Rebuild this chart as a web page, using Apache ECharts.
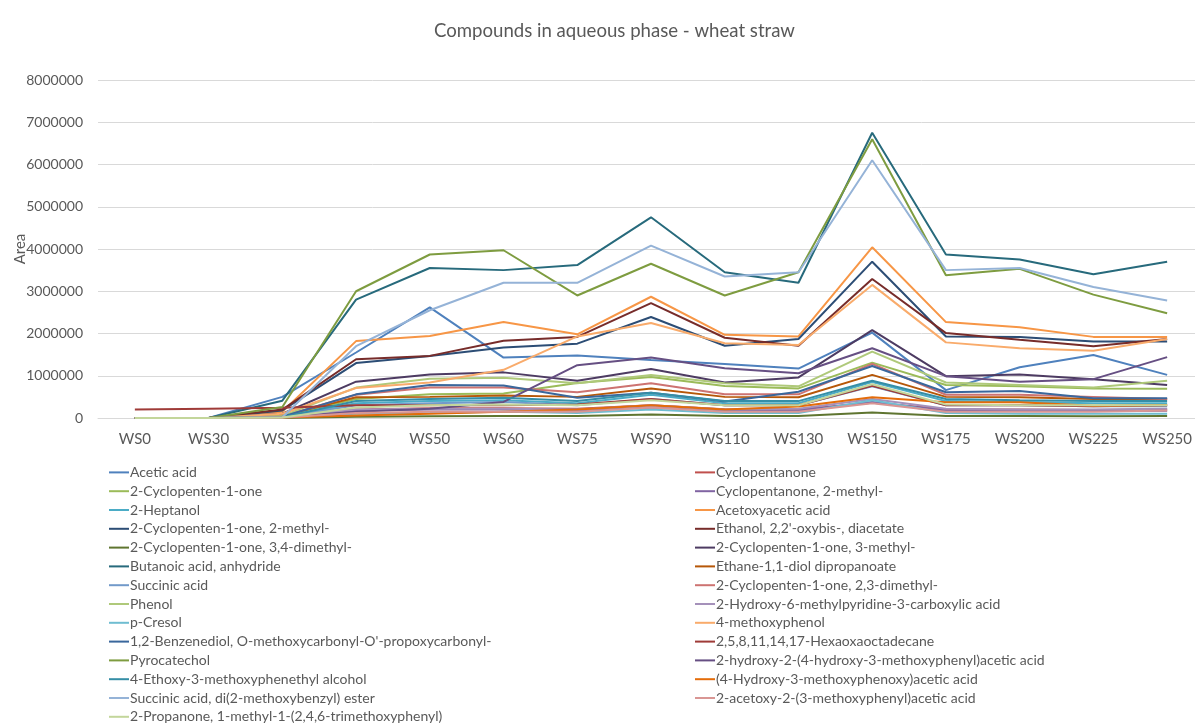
<!DOCTYPE html>
<html>
<head>
<meta charset="utf-8">
<title>Compounds in aqueous phase - wheat straw</title>
<script src="https://cdn.jsdelivr.net/npm/echarts@6/dist/echarts.min.js"></script>
<style>
  html, body { margin: 0; padding: 0; background: #ffffff; }
  #chart { width: 1195px; height: 724px; }
</style>
</head>
<body>
<div id="chart"></div>
<script>
// Samples (treatment temperature) along the x axis
const categories = ['WS0', 'WS30', 'WS35', 'WS40', 'WS50', 'WS60', 'WS75', 'WS90', 'WS110', 'WS130', 'WS150', 'WS175', 'WS200', 'WS225', 'WS250'];

// Peak areas per compound, one value per sample
const aceticAcid              = [0, 0, 500000, 1550000, 2620000, 1430000, 1480000, 1370000, 1280000, 1170000, 2020000, 660000, 1200000, 1490000, 1020000];
const cyclopentanone          = [0, 0, 60000, 200000, 230000, 230000, 220000, 300000, 210000, 200000, 360000, 210000, 200000, 190000, 200000];
const cyclopentenone          = [0, 0, 50000, 450000, 560000, 580000, 830000, 970000, 760000, 700000, 1310000, 780000, 750000, 700000, 690000];
const methylCyclopentanone    = [0, 0, 30000, 180000, 200000, 200000, 180000, 250000, 170000, 180000, 380000, 180000, 170000, 170000, 170000];
const heptanol                = [0, 0, 20000, 350000, 400000, 420000, 350000, 550000, 350000, 350000, 850000, 400000, 380000, 350000, 350000];
const acetoxyaceticAcid       = [0, 0, 150000, 1820000, 1940000, 2270000, 1980000, 2870000, 1970000, 1930000, 4040000, 2270000, 2150000, 1920000, 1920000];
const methylCyclopentenone2   = [0, 0, 180000, 1300000, 1470000, 1670000, 1760000, 2390000, 1710000, 1870000, 3700000, 1930000, 1920000, 1810000, 1810000];
const oxybisEthanolDiacetate  = [0, 0, 200000, 1390000, 1470000, 1830000, 1920000, 2720000, 1900000, 1710000, 3290000, 2010000, 1850000, 1700000, 1870000];
const dimethylCyclopentenone34 = [0, 0, 0, 30000, 40000, 50000, 50000, 80000, 50000, 50000, 130000, 50000, 50000, 40000, 50000];
const methylCyclopentenone3   = [0, 0, 100000, 860000, 1030000, 1080000, 880000, 1160000, 840000, 960000, 2080000, 990000, 1030000, 920000, 780000];
const butanoicAnhydride       = [0, 0, 410000, 2800000, 3550000, 3500000, 3620000, 4750000, 3450000, 3200000, 6750000, 3870000, 3750000, 3400000, 3700000];
const ethanediolDipropanoate  = [0, 0, 50000, 490000, 500000, 530000, 500000, 700000, 500000, 490000, 1020000, 500000, 490000, 450000, 450000];
const succinicAcid            = [0, 0, 20000, 300000, 350000, 380000, 300000, 450000, 300000, 300000, 750000, 300000, 300000, 280000, 280000];
const dimethylCyclopentenone23 = [0, 0, 40000, 550000, 720000, 720000, 610000, 820000, 560000, 560000, 1280000, 550000, 550000, 500000, 450000];
const phenol                  = [0, 0, 50000, 720000, 930000, 950000, 820000, 1020000, 820000, 750000, 1570000, 840000, 780000, 720000, 880000];
const hydroxyMethylpyridine   = [0, 0, 20000, 200000, 220000, 220000, 200000, 300000, 200000, 220000, 450000, 220000, 200000, 200000, 220000];
const pCresol                 = [0, 0, 10000, 100000, 120000, 150000, 120000, 200000, 120000, 120000, 420000, 120000, 100000, 100000, 100000];
const methoxyphenol           = [0, 0, 100000, 710000, 840000, 1140000, 1930000, 2250000, 1770000, 1730000, 3150000, 1790000, 1650000, 1590000, 1870000];
const benzenediolCarbonate    = [0, 0, 30000, 560000, 780000, 770000, 480000, 600000, 390000, 620000, 1230000, 610000, 640000, 470000, 470000];
const hexaoxaoctadecane       = [200000, 220000, 240000, 300000, 300000, 300000, 320000, 450000, 300000, 300000, 760000, 300000, 300000, 280000, 300000];
const pyrocatechol            = [0, 0, 260000, 3000000, 3870000, 3970000, 2900000, 3650000, 2900000, 3450000, 6600000, 3380000, 3530000, 2920000, 2480000];
const hydroxyMethoxyMandelic  = [0, 0, 20000, 150000, 220000, 380000, 1250000, 1430000, 1180000, 1060000, 1650000, 990000, 860000, 920000, 1440000];
const ethoxyMethoxyPhenethyl  = [0, 0, 20000, 400000, 450000, 480000, 400000, 600000, 400000, 400000, 880000, 450000, 420000, 400000, 400000];
const hydroxyMethoxyPhenoxyacetic = [0, 0, 10000, 60000, 100000, 150000, 200000, 300000, 200000, 270000, 490000, 370000, 370000, 290000, 310000];
const succinicDiester         = [0, 0, 20000, 1700000, 2550000, 3200000, 3200000, 4080000, 3350000, 3450000, 6100000, 3500000, 3550000, 3100000, 2780000];
const acetoxyMethoxyphenylacetic = [0, 0, 10000, 120000, 150000, 150000, 150000, 250000, 150000, 150000, 350000, 150000, 150000, 150000, 180000];
const propanoneTrimethoxyphenyl = [0, 0, 10000, 250000, 300000, 320000, 300000, 420000, 300000, 300000, 800000, 320000, 300000, 300000, 300000];

const compoundNames = [
  'Acetic acid',
  'Cyclopentanone',
  '2-Cyclopenten-1-one',
  'Cyclopentanone, 2-methyl-',
  '2-Heptanol',
  'Acetoxyacetic acid',
  '2-Cyclopenten-1-one, 2-methyl-',
  "Ethanol, 2,2'-oxybis-, diacetate",
  '2-Cyclopenten-1-one, 3,4-dimethyl-',
  '2-Cyclopenten-1-one, 3-methyl-',
  'Butanoic acid, anhydride',
  'Ethane-1,1-diol dipropanoate',
  'Succinic acid',
  '2-Cyclopenten-1-one, 2,3-dimethyl-',
  'Phenol',
  '2-Hydroxy-6-methylpyridine-3-carboxylic acid',
  'p-Cresol',
  '4-methoxyphenol',
  "1,2-Benzenediol, O-methoxycarbonyl-O'-propoxycarbonyl-",
  '2,5,8,11,14,17-Hexaoxaoctadecane',
  'Pyrocatechol',
  '2-hydroxy-2-(4-hydroxy-3-methoxyphenyl)acetic acid',
  '4-Ethoxy-3-methoxyphenethyl alcohol',
  '(4-Hydroxy-3-methoxyphenoxy)acetic acid',
  'Succinic acid, di(2-methoxybenzyl) ester',
  '2-acetoxy-2-(3-methoxyphenyl)acetic acid',
  '2-Propanone, 1-methyl-1-(2,4,6-trimethoxyphenyl)'
];

const compoundValues = [
  aceticAcid, cyclopentanone, cyclopentenone, methylCyclopentanone, heptanol,
  acetoxyaceticAcid, methylCyclopentenone2, oxybisEthanolDiacetate, dimethylCyclopentenone34,
  methylCyclopentenone3, butanoicAnhydride, ethanediolDipropanoate, succinicAcid,
  dimethylCyclopentenone23, phenol, hydroxyMethylpyridine, pCresol, methoxyphenol,
  benzenediolCarbonate, hexaoxaoctadecane, pyrocatechol, hydroxyMethoxyMandelic,
  ethoxyMethoxyPhenethyl, hydroxyMethoxyPhenoxyacetic, succinicDiester,
  acetoxyMethoxyphenylacetic, propanoneTrimethoxyphenyl
];

// Office-style series palette: base colours, then darker, lighter and deeper variants
const palette = [
  '#4F81BD', '#C0504D', '#9BBB59', '#8064A2', '#4BACC6', '#F79646',
  '#2C4D75', '#772C2A', '#5F7530', '#4D3B62', '#276A7C', '#B65708',
  '#729ACA', '#CD7371', '#AFC97A', '#A591BA', '#6FBDD1', '#F9AB6B',
  '#3A679C', '#9F3B38', '#7E9C40', '#664F83', '#358EA6', '#E46C0A',
  '#95B3D7', '#D99694', '#C3D69B'
];

const textColor = '#595959';
const fontFamily = 'Lato, "Open Sans", sans-serif';

const series = compoundNames.map((name, i) => ({
  name: name,
  type: 'line',
  data: compoundValues[i],
  symbol: 'none',
  showSymbol: false,
  lineStyle: { width: 2 },
  emphasis: { disabled: true },
  z: 2 + i / 100
}));

// Two legend columns, filled row by row
const legendCommon = {
  orient: 'vertical',
  top: 458,
  height: 275,
  itemWidth: 20,
  itemHeight: 8,
  itemGap: 0,
  icon: 'path://M0,4 L20,4 L20,6 L0,6 Z',
  textStyle: { color: textColor, fontSize: 14, fontFamily: fontFamily, lineHeight: 18.8, padding: [0, 0, 0, -4] },
  selectedMode: false
};

const chart = echarts.init(document.getElementById('chart'), null, { renderer: 'canvas' });
chart.setOption({
  animation: false,
  color: palette,
  title: {
    text: 'Compounds in aqueous phase - wheat straw',
    left: 429,
    top: 16,
    textStyle: { color: textColor, fontSize: 18.6, fontWeight: 'normal', fontFamily: fontFamily }
  },
  legend: [
    Object.assign({}, legendCommon, { left: 104, data: compoundNames.filter((_, i) => i % 2 === 0) }),
    Object.assign({}, legendCommon, { left: 690, data: compoundNames.filter((_, i) => i % 2 === 1) })
  ],
  grid: { left: 98, top: 80, width: 1106, height: 338, containLabel: false, outerBoundsMode: 'none' },
  xAxis: {
    type: 'category',
    data: categories,
    boundaryGap: true,
    axisLine: { show: true, lineStyle: { color: '#D9D9D9', width: 1 } },
    axisTick: { show: false },
    axisLabel: { color: textColor, fontSize: 15, fontFamily: fontFamily, margin: 14 }
  },
  yAxis: {
    type: 'value',
    min: 0,
    max: 8000000,
    interval: 1000000,
    name: 'Area',
    nameLocation: 'middle',
    nameRotate: 90,
    nameGap: 70,
    nameMoveOverlap: false,
    nameTextStyle: { color: textColor, fontSize: 15, fontFamily: fontFamily },
    axisLine: { show: false },
    axisTick: { show: false },
    splitLine: { lineStyle: { color: '#D9D9D9', width: 1 } },
    axisLabel: {
      color: textColor, fontSize: 14, fontFamily: fontFamily, margin: 15,
      formatter: (v) => String(v)
    }
  },
  series: series
});
</script>
</body>
</html>
